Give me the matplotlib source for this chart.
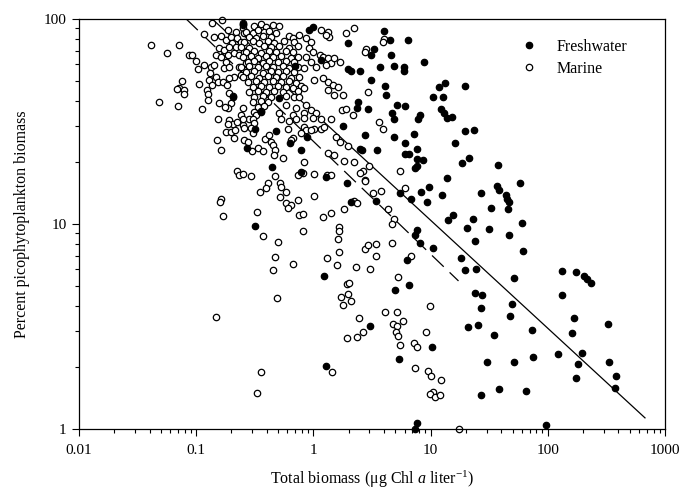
import numpy as np
import matplotlib
matplotlib.use('Agg')
import matplotlib.pyplot as plt
from matplotlib.ticker import FuncFormatter, NullFormatter, LogLocator
from matplotlib.lines import Line2D

plt.rcParams['font.family'] = 'Liberation Serif'
plt.rcParams['mathtext.fontset'] = 'custom'
plt.rcParams['mathtext.rm'] = 'Liberation Serif'
plt.rcParams['mathtext.it'] = 'Liberation Serif:italic'

#%% Data (total Chl a, percent picophytoplankton biomass)
fresh_chl = [0.25, 0.92, 1.0, 1.15, 1.97, 4.0, 4.5, 6.4, 3.3, 3.1,
             4.6, 1.99, 2.1, 2.5, 3.7, 4.9, 5.9, 5.9, 8.7, 3.1,
             4.1, 4.2, 13.4, 11.7, 10.5, 12.7, 19.5, 2.4, 2.35, 2.95,
             5.2, 6.1, 4.7, 4.9, 8.05, 7.8, 12.3, 12.9, 13.8, 15.2,
             1.8, 2.77, 4.85, 7.15, 6.1, 19.5, 23.3, 16.2, 3.5, 2.6,
             7.6, 6.1, 6.6, 7.6, 8.6, 7.3, 7.7, 18.5, 21.2, 37.5,
             13.8, 1.95, 5.5, 6.75, 8.3, 9.6, 9.4, 12.5, 26.7, 37.1,
             38.1, 44.2, 45, 46.5, 57.6, 45.6, 32.5, 23, 15.6, 14,
             2.1, 3.4, 0.88, 0.78, 0.32, 0.48, 0.63, 0.27, 0.44, 1.29,
             0.79, 0.51, 0.36, 0.205, 0.69, 2.5, 0.32, 1.22, 1.29, 3.07,
             7.6, 7.4, 8.2, 10.5, 6.3, 5.0, 6.6, 10.3, 5.4, 7.65,
             7.3, 20.6, 31.3, 46.3, 60.5, 23.9, 61, 18.1, 19.7, 24.4,
             51, 23.9, 27.3, 27, 49.6, 47.8, 20.9, 25.4, 34.7, 74,
             75.5, 30, 51, 27, 38.3, 65, 133, 174, 203, 217,
             232, 132, 167, 160, 327, 122, 197, 182, 174, 332,
             380, 377, 96]
fresh_pct = [95, 88, 91, 63, 76, 87, 79, 79, 71, 67,
             67, 57, 56, 55.6, 58, 58.9, 58, 56, 61.5, 50.6,
             47.2, 42.6, 48.5, 46.5, 41.8, 41.8, 47.1, 39.5, 36.6, 36.3,
             38.1, 37.7, 34.6, 32.4, 34, 32.4, 36.3, 34.7, 32.8, 33.4,
             30.2, 27.2, 26.5, 27.5, 24.9, 28.5, 28.7, 24.7, 23.0, 23.0,
             23.2, 21.9, 22.0, 20.8, 20.5, 18.7, 19.1, 19.8, 20.9, 19.3,
             16.7, 15.8, 14.2, 13.3, 14.3, 15.1, 12.8, 13.8, 14.1, 15.4,
             14.6, 13.8, 13.3, 12.8, 15.8, 11.9, 12.0, 10.6, 11.1, 10.5,
             12.8, 13.0, 26.5, 23.0, 29.0, 28.5, 24.8, 23.4, 19.0, 16.9,
             17.9, 41.3, 35.1, 41.8, 58.9, 23.3, 9.8, 5.6, 2.03, 3.18,
             9.4, 8.84, 8.05, 7.6, 6.67, 4.75, 5.05, 2.52, 2.19, 1.07,
             1.0, 9.6, 9.5, 8.8, 10.1, 8.26, 7.37, 6.8, 5.97, 6.03,
             5.43, 4.6, 4.48, 3.88, 4.07, 3.54, 3.14, 3.22, 2.86, 3.04,
             2.25, 2.13, 2.13, 1.46, 1.57, 1.54, 5.9, 5.84, 5.58, 5.38,
             5.13, 4.51, 3.47, 2.95, 3.26, 2.32, 2.36, 2.07, 1.78, 2.12,
             1.81, 1.58, 1.05]

marine_chl = [0.041, 0.056, 0.072, 0.087, 0.092, 0.10, 0.104, 0.117, 0.116, 0.136,
              0.166, 0.075, 0.071, 0.068, 0.078, 0.079, 0.048, 0.070, 0.111, 0.106,
              0.123, 0.127, 0.126, 0.143, 0.143, 0.164, 0.185, 0.18, 0.198, 0.218,
              0.225, 0.249, 0.249, 0.257, 0.274, 0.204, 0.157, 0.173, 0.191, 0.218,
              0.240, 0.266, 0.149, 0.162, 0.185, 0.211, 0.233, 0.257, 0.274, 0.266,
              0.180, 0.173, 0.191, 0.233, 0.257, 0.211, 0.241, 0.274, 0.134, 0.141,
              0.132, 0.129, 0.148, 0.136, 0.153, 0.169, 0.183, 0.191, 0.191, 0.205,
              0.198, 0.185, 0.157, 0.176, 0.153, 0.191, 0.205, 0.225, 0.249, 0.257,
              0.185, 0.180, 0.198, 0.215, 0.211, 0.151, 0.164, 0.254, 0.222, 0.233,
              0.249, 0.162, 0.159, 0.170, 0.249, 0.313, 0.357, 0.395, 0.449, 0.512,
              0.266, 0.303, 0.335, 0.381, 0.421, 0.481, 0.284, 0.324, 0.370, 0.435,
              0.624, 0.666, 0.257, 0.303, 0.345, 0.407, 0.464, 0.565, 0.688, 0.241,
              0.284, 0.381, 0.435, 0.512, 0.624, 0.733, 0.266, 0.313, 0.357, 0.421,
              0.481, 0.584, 0.666, 0.249, 0.294, 0.335, 0.395, 0.449, 0.53, 0.645,
              0.733, 0.274, 0.313, 0.370, 0.421, 0.495, 0.584, 0.688, 0.241, 0.284,
              0.335, 0.395, 0.449, 0.547, 0.624, 0.733, 0.266, 0.313, 0.370, 0.435,
              0.495, 0.584, 0.688, 0.249, 0.294, 0.345, 0.407, 0.481, 0.547, 0.645,
              0.759, 0.274, 0.324, 0.381, 0.449, 0.53, 0.624, 0.711, 0.303, 0.357,
              0.421, 0.495, 0.584, 0.666, 0.785, 0.284, 0.335, 0.395, 0.464, 0.547,
              0.733, 0.313, 0.370, 0.435, 0.584, 0.688, 0.303, 0.357, 0.407, 0.335,
              0.381, 0.313, 0.357, 0.759, 0.866, 0.956, 0.924, 0.99, 0.866, 0.956,
              1.05, 0.838, 1.13, 1.16, 1.33, 1.37, 1.28, 1.2, 1.33, 1.42,
              1.28, 1.67, 1.51, 1.2, 1.33, 1.46, 1.61, 1.33, 1.51, 1.78,
              1.9, 2.24, 1.02, 0.838, 0.759, 0.711, 0.866, 0.956, 1.05, 0.838,
              0.584, 0.666, 0.512, 0.249, 0.241, 0.284, 0.324, 2.82, 2.73, 4.04,
              3.9, 2.95, 1.76, 1.88, 2.17, 3.66, 3.9, 3.01, 2.64, 2.5,
              5.5, 2.73, 3.2, 3.8, 4.3, 4.92, 6.0, 1.42, 1.02, 0.249,
              0.303, 0.313, 0.294, 0.274, 0.299, 0.338, 0.374, 0.389, 0.415, 0.435,
              0.449, 0.472, 0.464, 0.547, 0.303, 0.605, 0.666, 0.645, 0.53, 0.624,
              0.711, 0.838, 0.99, 1.16, 0.838, 0.866, 0.956, 1.16, 1.24, 0.785,
              1.56, 1.67, 1.97, 1.33, 1.51, 1.84, 2.24, 0.838, 0.294, 0.472,
              0.733, 0.81, 1.02, 1.3, 1.42, 0.407, 0.395, 0.349, 0.519, 0.53,
              0.584, 0.522, 0.584, 0.645, 0.605, 0.733, 1.02, 0.33, 0.748, 0.81,
              1.2, 1.42, 1.84, 2.24, 2.35, 0.148, 0.37, 0.50, 0.47, 0.45,
              0.49, 0.675, 0.82, 1.64, 1.64, 1.63, 1.64, 1.31, 1.58, 2.3,
              3.03, 2.77, 2.95, 3.4, 3.4, 4.7, 4.73, 1.93, 2.03, 1.72,
              1.97, 2.1, 1.8, 2.44, 1.92, 2.36, 2.64, 4.1, 5.2, 5.25,
              4.76, 5.2, 5.8, 5.1, 5.25, 5.5, 7.2, 7.6, 9.2, 9.85,
              6.75, 2.78, 7.4, 9.5, 10.1, 12.2, 10.5, 9.9, 11, 12.1,
              0.36, 0.33, 1.43, 17.4]
marine_pct = [75, 68, 75, 67, 67, 62.4, 57.3, 59.5, 84.8, 95.8,
              98.9, 49.9, 46.3, 45.3, 45.0, 42.9, 39.4, 37.5, 36.3, 48,
              45, 43, 40.1, 50.4, 82, 83, 88.4, 79, 82, 86.7,
              80.6, 90, 95.3, 85, 83.6, 76.2, 72, 70.6, 73, 73,
              77.5, 74.7, 66.7, 65.4, 66.7, 68, 66.7, 69, 64.3, 60.8,
              62, 57.5, 58.6, 58.6, 56.4, 52.3, 53.3, 52.3, 58.6, 59.6,
              54.3, 50.4, 52.3, 47.6, 49.4, 49.4, 47.6, 51.3, 43.4, 42.2,
              39, 36.6, 39, 37.4, 32.5, 32.1, 30.9, 31.5, 30.4, 29.4,
              30.9, 28, 28.2, 28.7, 26.3, 25.7, 23, 25.7, 18.1, 17.3,
              17.6, 13.2, 12.8, 11, 93.5, 92, 95, 91, 94, 92.5,
              86.7, 85.5, 88, 86, 87.5, 85, 82, 80.5, 83, 81.5,
              82.5, 80.8, 77.5, 78.5, 76.5, 77.8, 76.8, 78.2, 77, 73.3,
              72.5, 74, 73, 73.8, 72.6, 73.5, 69.3, 70.2, 68.6, 69.8,
              68.8, 70, 69, 65.5, 66.2, 64.8, 65.8, 65, 66, 64.6,
              65.4, 61.9, 62.5, 61.2, 62.3, 61.5, 62.6, 61.4, 58.6, 59.3,
              58.1, 59, 58.3, 58.8, 57.9, 58.6, 55.4, 56, 54.8, 55.7,
              55.1, 55.9, 54.9, 52.3, 52.9, 51.8, 52.6, 52, 53, 51.7,
              52.4, 49.5, 50, 49.1, 49.8, 49.3, 50.1, 49, 46.8, 47.3,
              46.4, 47, 46.6, 46.2, 47.1, 44.2, 44.7, 43.8, 44.5, 44,
              44.4, 41.8, 42.3, 41.5, 42, 41.6, 39.5, 39.9, 39.2, 37.4,
              37.8, 35.3, 35.7, 83.6, 80.6, 77.5, 72, 69.3, 65.5, 61.9,
              58.6, 57.5, 66.7, 88.4, 86.7, 82, 83.6, 65.5, 64.3, 60.8,
              59.6, 61.9, 64.3, 51.3, 49.4, 47.6, 46.8, 45, 42.6, 42.6,
              85, 90, 50.4, 45.9, 41.8, 36.6, 38.1, 36, 34.6, 34.6,
              38.1, 34, 34.6, 36.6, 34, 32.4, 34, 71.3, 69.3, 79.9,
              77.5, 44.2, 36, 36.3, 34, 31.6, 29.1, 19.2, 18.1, 17.8,
              18.1, 16.4, 14.2, 14.5, 11.9, 10.6, 15, 32.7, 29.2, 32.4,
              32.4, 31.2, 29.5, 25.2, 22.7, 23.6, 22.7, 26.1, 27.2, 25.2,
              24.3, 23, 21.7, 21.1, 27.7, 29, 26.3, 25.7, 32.4, 31.7,
              32.4, 33, 33, 32.4, 29.6, 28.7, 28.7, 29.2, 29.6, 27.7,
              26.7, 25.2, 24.1, 22.1, 21.8, 20.3, 20.1, 20, 17.2, 17.1,
              17.3, 17.7, 17.5, 17.3, 17.3, 15.8, 15, 14.4, 15.8, 15.1,
              14.4, 13.6, 12.6, 12.4, 12, 13.1, 13.7, 11.5, 11.1, 11.2,
              10.8, 11.3, 11.9, 13, 12.6, 3.5, 8.76, 8.2, 6.87, 5.97,
              4.37, 6.37, 9.25, 9.7, 9.2, 8.45, 7.3, 6.85, 6.28, 6.15,
              6.0, 7.55, 7.9, 8.0, 6.95, 10, 8.05, 5.07, 5.13, 4.42,
              4.55, 4.23, 4.01, 3.46, 2.77, 2.81, 2.96, 3.74, 3.74, 5.5,
              3.24, 3.19, 3.37, 2.98, 2.83, 2.56, 2.62, 2.52, 2.98, 4.0,
              6.98, 16.2, 1.99, 1.92, 1.82, 1.73, 1.52, 1.48, 1.43, 1.46,
              1.9, 1.5, 1.89, 1.0]

# regression lines: percent = a * chl ** b, drawn over the x range given
solid_fit = (35.1, -0.527)
solid_range = [0.137, 675]
dashed_fit = (25.3, -0.55)
dashed_range = [0.082, 17.3]

x_ticks = [0.01, 0.1, 1, 10, 100, 1000]
y_ticks = [1, 10, 100]

#%% Plot
fig = plt.figure(figsize=(6.8, 4.98), dpi=100)
ax = fig.add_axes([79/680, 69/498, 586/680, 410/498])

xs = np.array(solid_range)
ax.plot(xs, solid_fit[0] * xs ** solid_fit[1], color='black', lw=0.9)
xd = np.array(dashed_range)
ax.plot(xd, dashed_fit[0] * xd ** dashed_fit[1], color='black', lw=0.9,
        dashes=(13, 6.5))

# open circles for marine, filled for freshwater (drawn on top)
ax.plot(marine_chl, marine_pct, ls='none', marker='o', ms=4.6,
        mfc='white', mec='black', mew=0.9, clip_on=False)
ax.plot(fresh_chl, fresh_pct, ls='none', marker='o', ms=4.6,
        mfc='black', mec='black', mew=0.9, clip_on=False)

ax.set_xscale('log')
ax.set_yscale('log')
ax.set_xlim(0.01, 1000)
ax.set_ylim(1, 100)

ax.set_xticks(x_ticks)
ax.set_yticks(y_ticks)
fmt = FuncFormatter(lambda v, p: '%g' % v)
ax.xaxis.set_major_formatter(fmt)
ax.yaxis.set_major_formatter(fmt)
ax.xaxis.set_minor_locator(LogLocator(base=10, subs=np.arange(2, 10)))
ax.yaxis.set_minor_locator(LogLocator(base=10, subs=np.arange(2, 10)))
ax.xaxis.set_minor_formatter(NullFormatter())
ax.yaxis.set_minor_formatter(NullFormatter())

ax.tick_params(which='major', direction='out', length=5, width=0.8,
               labelsize=11, color='black')
ax.tick_params(which='minor', direction='out', length=2.8, width=0.8)
ax.tick_params(axis='x', pad=6)
ax.tick_params(axis='y', pad=4)
for s in ax.spines.values():
    s.set_linewidth(0.9)

ax.set_xlabel(r'Total biomass ($\mathregular{\mu}$g Chl $\mathit{a}$ liter$^{\mathregular{-1}}$)',
              fontsize=11.5, labelpad=8)
ax.set_ylabel('Percent picophytoplankton biomass', fontsize=11.5, labelpad=10)

handles = [Line2D([], [], ls='none', marker='o', ms=4.6, mfc='black', mec='black', mew=0.9),
           Line2D([], [], ls='none', marker='o', ms=4.6, mfc='white', mec='black', mew=0.9)]
ax.legend(handles, ['Freshwater', 'Marine'], loc='upper left',
          bbox_to_anchor=(0.754, 0.952), frameon=False, fontsize=11.5,
          handlelength=1.0, handletextpad=1.25, borderpad=0, borderaxespad=0,
          labelspacing=0.4)

fig.savefig('out.png', dpi=100)
